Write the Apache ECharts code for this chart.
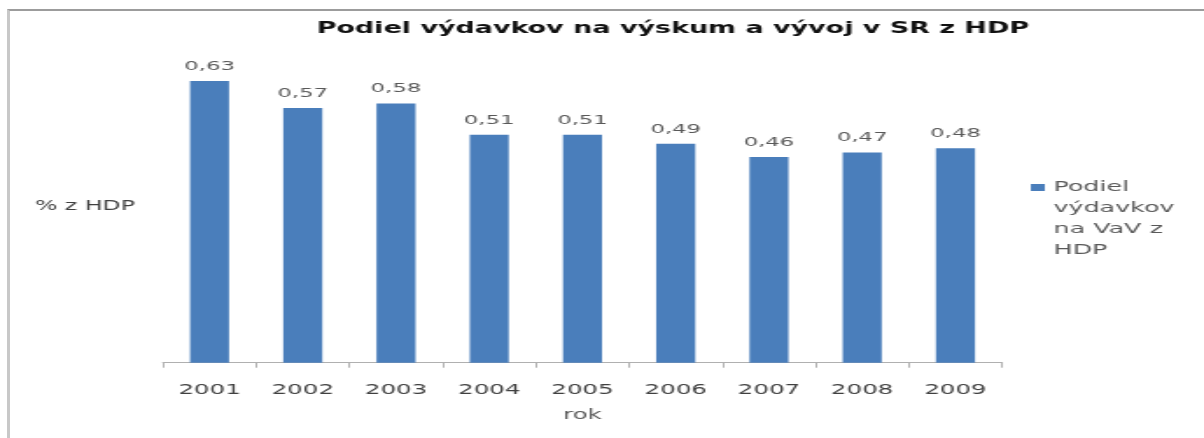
<!DOCTYPE html>
<html>
<head>
<meta charset="utf-8">
<script src="https://cdn.jsdelivr.net/npm/echarts@6/dist/echarts.min.js"></script>
<style>
  html, body { margin: 0; padding: 0; background: #fff; overflow: hidden; }
  #frame { position: absolute; left: 7px; top: 9px; width: 1200px; height: 440px;
           border-top: 2px solid #9c9c9c; border-left: 3px solid #c8c8c8; box-sizing: border-box; }
  #chart { position: absolute; left: 0; top: 0; width: 688px; height: 438px;
           transform: scaleX(1.75); transform-origin: 0 0; }
</style>
</head>
<body>
<div id="frame"></div>
<div id="chart"></div>
<script>
const titleText = 'Podiel výdavkov na výskum a vývoj v SR z HDP';
const categories = ['2001', '2002', '2003', '2004', '2005', '2006', '2007', '2008', '2009'];
const seriesName = 'Podiel výdavkov na VaV z HDP';
const legendLines = ['Podiel', 'výdavkov', 'na VaV z', 'HDP'];
const values = [0.63, 0.57, 0.58, 0.51, 0.51, 0.49, 0.46, 0.47, 0.48];
const xName = 'rok';
const yName = '% z HDP';

const font = 'DejaVu Sans';
const chart = echarts.init(document.getElementById('chart'), null, { renderer: 'canvas' });
chart.setOption({
  animation: false,
  backgroundColor: 'transparent',
  title: {
    text: titleText,
    left: 181,
    top: 21,
    padding: 0,
    textStyle: { fontFamily: font, fontSize: 15.4, fontWeight: 'bold', color: '#111' }
  },
  legend: {
    orient: 'vertical',
    left: 589,
    top: 114,
    padding: 0,
    itemWidth: 8,
    itemHeight: 7,
    icon: 'rect',
    formatter: function () {
      // blank leading lines so the first text line sits level with the marker
      return '\n\n\n' + legendLines.join('\n');
    },
    textStyle: { fontFamily: font, fontSize: 14.5, color: '#595959', lineHeight: 21 },
    data: [seriesName]
  },
  grid: { left: 93.1, right: 115.4, top: 49.8, bottom: 75.3, containLabel: false },
  xAxis: {
    type: 'category',
    data: categories,
    name: xName,
    nameLocation: 'middle',
    nameGap: 46,
    nameTextStyle: { fontFamily: font, fontSize: 14, color: '#595959' },
    axisLine: { lineStyle: { color: '#b0b0b0', width: 1 } },
    axisTick: { show: true, length: 5, lineStyle: { color: '#b0b0b0' } },
    axisLabel: { fontFamily: font, fontSize: 14, color: '#404040', margin: 21 }
  },
  yAxis: {
    type: 'value',
    min: 0,
    max: 0.7,
    interval: 0.1,
    name: yName,
    nameLocation: 'middle',
    nameRotate: 0,
    nameGap: 16,
    nameTextStyle: { fontFamily: font, fontSize: 13.5, color: '#404040', align: 'right' },
    axisLine: { show: false },
    axisTick: { show: false },
    axisLabel: { show: false },
    splitLine: { show: false }
  },
  series: [{
    name: seriesName,
    type: 'bar',
    data: values,
    barWidth: 22.3,
    itemStyle: { color: '#4A7EBB' },
    label: {
      show: true,
      position: 'top',
      distance: 8,
      fontFamily: font,
      fontSize: 13,
      color: '#595959',
      formatter: function (p) { return p.value.toFixed(2).replace('.', ','); }
    }
  }]
});
</script>
</body>
</html>
